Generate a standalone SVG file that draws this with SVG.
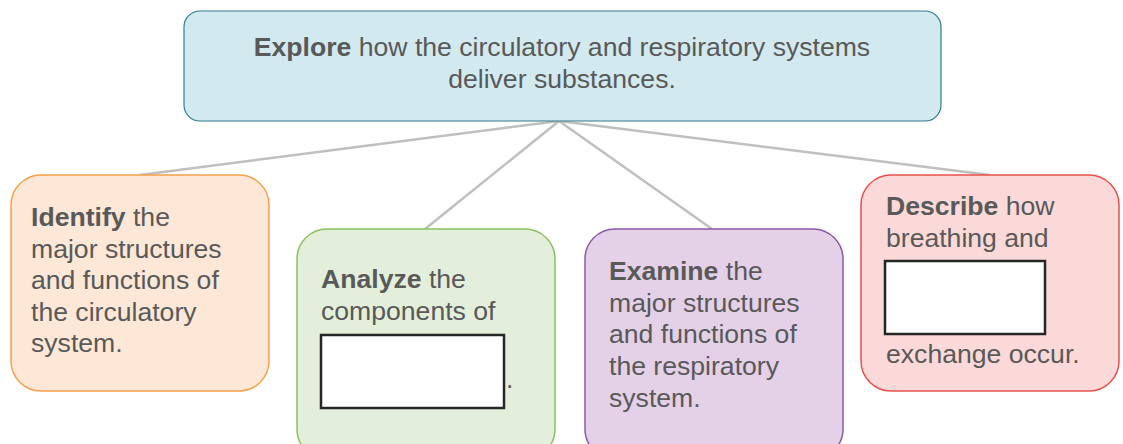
<svg xmlns="http://www.w3.org/2000/svg" width="1123" height="444" viewBox="0 0 1123 444">
<style>
.t{font-family:"Liberation Sans",Arial,sans-serif;font-size:26.6px;fill:#595959}
.b{font-weight:bold}
.conn{stroke:#bfbfbf;stroke-width:2.5;fill:none}
.blank{fill:#fff;stroke:#262626;stroke-width:2.5}
</style>
<rect width="1123" height="444" fill="#fff"/>
<g id="connectors">
<line class="conn" x1="559" y1="121" x2="140" y2="175"/>
<line class="conn" x1="559" y1="121" x2="425" y2="229"/>
<line class="conn" x1="559" y1="121" x2="712" y2="229"/>
<line class="conn" x1="559" y1="121" x2="990" y2="175"/>
</g>
<g id="explore">
<rect x="184" y="11" width="757" height="110" rx="16" fill="#d2e9f0" stroke="#2e7d8a" stroke-width="1.2"/>
<text class="t" x="562" y="56" text-anchor="middle"><tspan class="b">Explore</tspan> how the circulatory and respiratory systems</text>
<text class="t" x="562" y="88" text-anchor="middle">deliver substances.</text>
</g>
<g id="identify">
<rect x="11" y="175" width="258" height="216" rx="30" fill="#fde7d7" stroke="#f5a04a" stroke-width="1.5"/>
<text class="t" x="31" y="226"><tspan class="b">Identify</tspan> the</text>
<text class="t" x="31" y="258">major structures</text>
<text class="t" x="31" y="289">and functions of</text>
<text class="t" x="31" y="321">the circulatory</text>
<text class="t" x="31" y="352">system.</text>
</g>
<g id="analyze">
<rect x="297" y="229" width="258" height="230" rx="30" fill="#e3efda" stroke="#8cc060" stroke-width="1.5"/>
<text class="t" x="321" y="288"><tspan class="b">Analyze</tspan> the</text>
<text class="t" x="321" y="320">components of</text>
<rect class="blank" x="321" y="335" width="183" height="73"/>
<text class="t" x="506" y="388">.</text>
</g>
<g id="examine">
<rect x="585" y="229" width="258" height="230" rx="30" fill="#e4d1e7" stroke="#8a5aa8" stroke-width="1.5"/>
<text class="t" x="609" y="280"><tspan class="b">Examine</tspan> the</text>
<text class="t" x="609" y="312">major structures</text>
<text class="t" x="609" y="343">and functions of</text>
<text class="t" x="609" y="375">the respiratory</text>
<text class="t" x="609" y="407">system.</text>
</g>
<g id="describe">
<rect x="861" y="175" width="258" height="216" rx="30" fill="#fbd9d8" stroke="#e8504a" stroke-width="1.5"/>
<text class="t" x="886" y="215"><tspan class="b">Describe</tspan> how</text>
<text class="t" x="886" y="247">breathing and</text>
<rect class="blank" x="885" y="261" width="160" height="73"/>
<text class="t" x="886" y="363">exchange occur.</text>
</g>
</svg>
